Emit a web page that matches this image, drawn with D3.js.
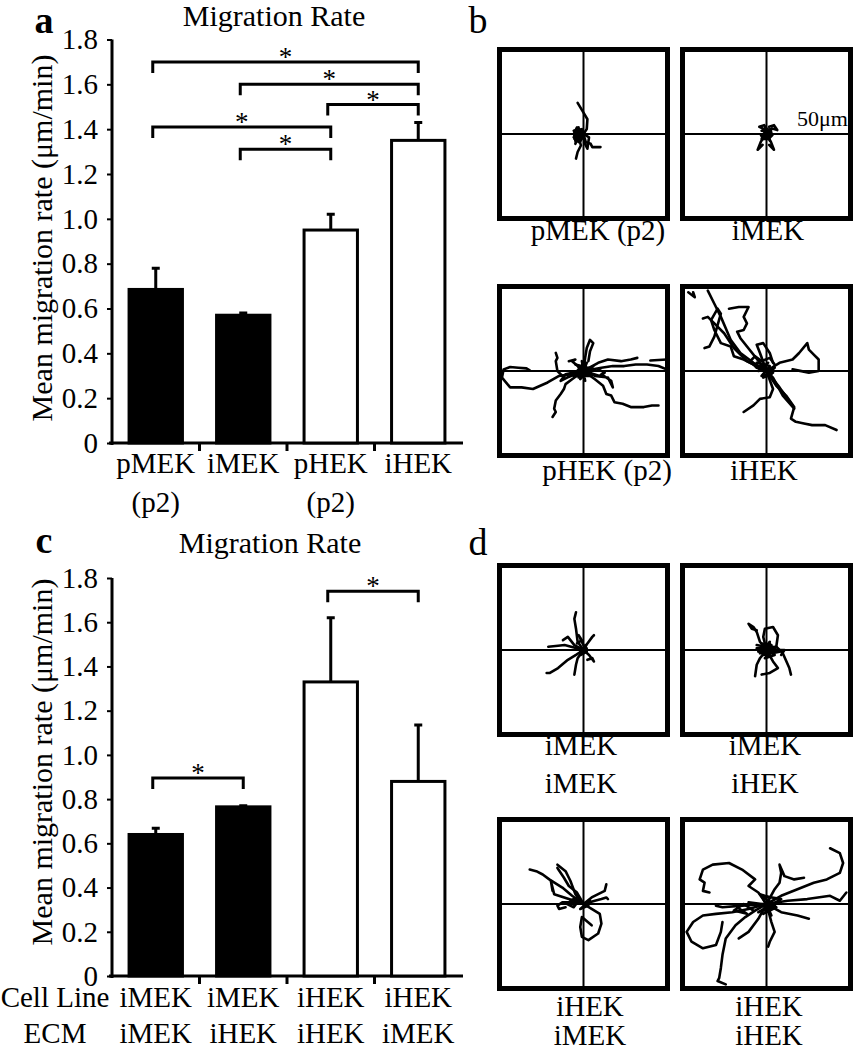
<!DOCTYPE html>
<html><head><meta charset="utf-8">
<script src="https://cdn.jsdelivr.net/npm/d3@7"></script>
<style>
body{margin:0;background:#fff}
svg{display:block}
svg text{font-family:"Liberation Serif","Times New Roman",Times,serif;fill:#000}
</style>
</head><body>
<script>
// ---------------- DATA ----------------
const yTicks = [0,0.2,0.4,0.6,0.8,1.0,1.2,1.4,1.6,1.8];
const yTickLabels = ["0","0.2","0.4","0.6","0.8","1.0","1.2","1.4","1.6","1.8"];

// Panel a
const catsA = ["pMEK","iMEK","pHEK","iHEK"];
const subA = ["(p2)","","(p2)",""];
const meansA = [0.685,0.57,0.95,1.35];
const errsA = [0.095,0.01,0.07,0.08];
const groupA = ["mouse","mouse","human","human"];
const sigA = [[0,3,1.70],[1,3,1.60],[2,3,1.51],[0,2,1.41],[1,2,1.31]];

// Panel c
const cellLineC = ["iMEK","iMEK","iHEK","iHEK"];
const ecmC = ["iMEK","iHEK","iHEK","iMEK"];
const meansC = [0.64,0.765,1.33,0.88];
const errsC = [0.028,0.005,0.29,0.255];
const groupC = ["mouse","mouse","human","human"];
const sigC = [[0,1,0.895],[2,3,1.74]];

// Panel b track labels
const labelsB = ["pMEK (p2)","iMEK","pHEK (p2)","iHEK"];
// Panel d track labels (cell line / ECM)
const cellLineD = ["iMEK","iMEK","iHEK","iHEK"];
const ecmD = ["iMEK","iHEK","iMEK","iHEK"];

// Cell trajectories (µm, origin-centred, y up)
const tracksB1 = [
 [[0,0],[2,3],[2.4,9],[0,13],[-3.6,19]],
 [[0,0],[-3.6,1],[-5.6,-1],[-4.6,-5],[-2.6,-3],[-1.6,-7],[-3.6,-11],[-4.6,-15]],
 [[0,0],[1.4,-5],[4.4,-6],[5.4,-8],[10.4,-8]],
 [[-5.6,2],[-2.6,3],[0.4,1],[-4.6,-2],[-1.6,-4],[-5.6,-3],[0,0]],
 [[0,0],[3.4,-2],[2.4,-9],[0.4,-5]],
 [[0,0],[-4,4],[-6,0],[-3,-1],[-5,-6]],
 [[-4,1],[-2,-2],[-5,-4],[-3,0],[-6,2],[-2,1],[-4,-1]],
 [[-1,3],[-5,1],[-3,4],[-6,-2],[0,-2],[-3,-5]]
];
const tracksB2 = [
 [[0,0],[-2.4,3.4],[-4.4,4.4],[-1.4,5.4],[0.6,2.4]],
 [[0,0],[3.6,3.4],[6.6,2.4],[4.6,5.4],[1.6,4.4]],
 [[0,0],[-3.4,-4.6],[-5.4,-9.6],[-2.4,-6.6]],
 [[0,0],[2.6,-4.6],[4.6,-9.6],[1.6,-6.6]],
 [[0,0],[-3.4,-0.6],[-2.4,-2.6],[-0.4,-1.6],[1.6,-2.6],[3.6,-0.6]],
 [[0,0],[-2,2],[1,1],[-1,-2],[2,-1],[0,3]],
 [[-2,0],[1,-3],[-3,-3],[0,1],[3,1],[-1,4],[2,-4]],
 [[-1,1],[2,2],[-2,-1],[1,-1],[3,3],[-3,2]]
];
const tracksB3 = [
 [[0,0],[-8,-2],[-15,-3],[-22,-7],[-31,-11],[-38,-10],[-45,-10],[-50,-4],[-49,1],[-45,2.4],[-40,2],[-35,1.6],[-33,0.4]],
 [[0,0],[7,-5],[12,-9],[14,-14],[17,-15],[19,-19],[24,-20],[29,-22],[37,-22],[42,-21],[46,-21]],
 [[0,0],[-7,-5],[-11,-8],[-12,-11],[-14,-14],[-17,-18],[-18,-23],[-17,-25],[-19,-28]],
 [[0,0],[-9,-2],[-13,-3],[-16,0],[-17,6],[-16,8],[-17,11]],
 [[0,0],[1,8],[2,14],[4,19],[6,17],[4,12],[3,6]],
 [[0,0],[9,5],[15,7],[23,6],[29,7],[33,8]],
 [[0,0],[11,2],[18,3],[25,3],[32,4],[39,4],[46,3],[51,1]],
 [[41,6.4],[51,7]],
 [[0,0],[7,-3],[15,-4],[18,-10],[17,-6],[11,-2]],
 [[-5,4],[3,2],[-3,-4],[5,-2],[-1,6],[1,-6],[0,0]],
 [[0,0],[-7,6],[-5,7],[-9,6]],
 [[-3,2],[4,-3],[-6,-3],[6,3],[-2,-5],[2,5],[-4,0],[5,0]],
 [[0,0],[-10,-4],[-14,-6],[-11,-2],[-6,-1]],
 [[0,0],[10,-3],[13,-1],[9,1]]
];
const tracksB4 = [
 [[0,0],[-8,5],[-16,11],[-22,19],[-25,26],[-28,33],[-32,41],[-36,49]],
 [[0,0],[-12,6],[-20,14],[-26,23],[-32,29],[-36,33],[-39,32]],
 [[0,0],[-14,7],[-20,9],[-22,15],[-28,17],[-32,25],[-34,31],[-30,38],[-28,35],[-32,21],[-35,15],[-38,14]],
 [[0,0],[-16,20],[-18,24],[-14,25],[-12,29],[-14,33],[-11,39],[-17,39],[-23,38]],
 [[0,0],[8,5],[16,7],[20,11],[25,17],[26,13],[29,10],[32,7],[32,0],[26,-1],[16,1]],
 [[0,0],[-4,11],[-6,16],[-2,17],[2,11],[4,5]],
 [[0,0],[6,-9],[12,-15],[17,-22],[15,-29],[18,-31],[23,-32],[28,-33],[36,-33],[43,-36]],
 [[0,0],[4,-11],[2,-16],[-4,-17],[-8,-21],[-14,-25]],
 [[0,0],[8,-10],[16,-21]],
 [[0,0],[4,-4],[10,-15],[17,-23]],
 [[-48,48],[-44,45],[-45,48]],
 [[-6,5],[2,3],[-3,-3],[4,-1],[-2,2],[0,0]],
 [[0,0],[-6,2],[-10,6],[-7,9],[-3,6],[2,8],[5,4]],
 [[-4,3],[3,-2],[-2,-4],[5,2],[-5,0],[1,5]]
];
const tracksD1 = [
 [[0,0],[-3.6,5],[-4.6,13],[-5.6,19],[-4.6,23]],
 [[0,0],[-7.6,2],[-11.6,3],[-15.6,2.6],[-21.6,2]],
 [[0,0],[-4.6,-3],[-9.6,-6],[-15.6,-11],[-20.6,-14],[-22.6,-14]],
 [[0,0],[2.4,4],[5.4,8],[6.4,9]],
 [[0,0],[-3.6,-5],[-4.6,-9],[-5.6,-15]],
 [[0,0],[3.4,-3],[6.4,-7],[5.4,-5],[2.4,-6]],
 [[0,0],[-5.6,3],[-9.6,8],[-12.6,6]],
 [[-3,1],[2,-1],[-1.6,-3],[1.4,3],[0,0]],
 [[-4,4],[-1,6],[-3,9],[0,3],[2,1],[-2,-1]]
];
const tracksD2 = [
 [[0,0],[-4,5],[-6,11],[-8,14],[-11,16],[-9,13],[-6,12]],
 [[0,0],[-2,8],[-1,13],[4,14],[7,9],[6,2],[10,-2],[14,-11],[15,-15]],
 [[0,0],[-4,-5],[-6,-9],[-7,-16]],
 [[0,0],[4,-7],[7,-11],[2,-14],[-3,-15]],
 [[-6,3],[4,1],[-2,-3],[8,-1],[-4,-2],[2,5],[0,0]],
 [[0,0],[8,0],[11,0],[9,-3]],
 [[-5,-1],[3,3],[-3,4],[5,-3],[-1,-5],[6,2],[-6,1]],
 [[-2,2],[4,-1],[0,-3],[-4,1],[2,4]]
];
const tracksD3 = [
 [[0,0],[-7,5],[-13,10],[-21,15],[-25,18],[-29,20],[-33,21]],
 [[0,0],[-5,6],[-8,14],[-11,20],[-16,24]],
 [[0,0],[-4,7],[-9,11],[-12,16],[-16,22]],
 [[0,0],[5,4],[9,6],[13,8],[14,12]],
 [[0,0],[5,-3],[10,-6],[11,-12],[9,-18],[3,-22],[-1,-20],[-2,-14],[-1,-8],[5,-13]],
 [[0,0],[-7,1],[-13,1],[-16,-1],[-15,-3],[-11,-2]],
 [[0,0],[-9,3],[-18,6],[-20,14],[-19,8]],
 [[0,0],[7,2],[11,3],[14,4],[15,3]],
 [[-5,2],[3,-1],[-2,-3],[4,2],[0,0]],
 [[-8,2],[-4,4],[-10,0],[-6,-2],[-3,2]]
];
const tracksD4 = [
 [[0,0],[-5,7],[-11,11],[-7,15],[-15,21],[-23,25],[-33,24],[-39,21],[-41,15],[-38,13],[-39,8],[-35,7]],
 [[0,0],[-11,-3],[-21,-5],[-31,-6],[-39,-7],[-45,-11],[-49,-17],[-46,-23],[-39,-27],[-31,-25],[-28,-17],[-27,-11]],
 [[0,0],[-7,-4],[-13,-8],[-19,-13],[-25,-21],[-27,-31],[-28,-39],[-29,-45],[-30,-47],[-25,-49]],
 [[0,0],[9,5],[19,9],[29,13],[37,15],[41,17],[45,19],[47,25],[45,31],[39,34]],
 [[0,0],[13,2],[25,3],[39,5],[45,2],[49,7]],
 [[0,0],[5,9],[8,13],[9,19],[8,24],[11,17],[17,15],[23,16]],
 [[0,0],[9,-5],[19,-7],[26,-9]],
 [[0,0],[3,-11],[5,-17],[2,-23],[1,-26]],
 [[0,0],[-5,-9],[-11,-17],[-17,-21]],
 [[0,0],[-15,-1],[-27,-2],[-31,-1]],
 [[-11,1],[5,-1],[-5,-5],[9,3],[-3,5],[3,-7],[0,0]],
 [[-18,-2],[-12,-6],[-20,-4],[-14,0],[-8,-4]],
 [[2,4],[-4,6],[6,-2],[-2,-6],[8,2]]
];

// ---------------- DRAW ----------------
const W = 856, H = 1050;
const SERIF = "'Liberation Serif','Times New Roman',Times,serif";
const svg = d3.select("body").append("svg").attr("width", W).attr("height", H)
  .style("font-family", SERIF);
const FONT = 29;
const fill = {mouse:"#000", human:"#fff"};

function txt(x, y, s, size, anchor, weight) {
  return svg.append("text").attr("x", x).attr("y", y).attr("font-size", size)
    .style("font-family", SERIF)
    .attr("text-anchor", anchor || "middle").attr("font-weight", weight || "normal").text(s);
}

function barPanel(means, errs, groups, sigs, yBottom, yTop) {
  const g = svg.append("g");
  const x = d3.scaleBand().domain(d3.range(means.length)).range([112, 462])
    .paddingInner(0.39).paddingOuter(0.195);
  const y = d3.scaleLinear().domain([0, 1.8]).range([yBottom, yTop]);
  const cx = i => x(i) + x.bandwidth() / 2;

  const ya = d3.axisLeft(y).tickValues(yTicks).tickFormat((d, i) => yTickLabels[i])
    .tickSize(5).tickSizeOuter(0).tickPadding(9);
  const gy = g.append("g").attr("transform", "translate(112,0)").call(ya)
    .attr("font-size", FONT).attr("font-family", null);
  gy.select(".domain").attr("stroke-width", 3).attr("d", `M0,${yTop}V${yBottom + 2}`);
  gy.selectAll(".tick line").attr("stroke-width", 2);
  gy.selectAll(".tick text").attr("fill", "#000").style("font-family", SERIF);

  // x axis baseline + boundary ticks
  g.append("line").attr("x1", 109).attr("x2", 463).attr("y1", yBottom).attr("y2", yBottom)
    .attr("stroke", "#000").attr("stroke-width", 3);
  const bounds = d3.range(1, means.length).map(i => x(i) - x.step() * x.paddingInner() / 2);
  g.selectAll(".bt").data(bounds).join("line")
    .attr("x1", d => d).attr("x2", d => d).attr("y1", yBottom).attr("y2", yBottom + 8)
    .attr("stroke", "#000").attr("stroke-width", 3);

  g.selectAll(".err").data(means).join("path")
    .attr("d", (d, i) => `M${cx(i)},${y(d)}V${y(d + errs[i])}M${cx(i) - 4},${y(d + errs[i])}H${cx(i) + 4}`)
    .attr("stroke", "#000").attr("stroke-width", 3).attr("fill", "none");

  g.selectAll(".bar").data(means).join("rect")
    .attr("x", (d, i) => x(i)).attr("width", x.bandwidth())
    .attr("y", d => y(d)).attr("height", d => yBottom - y(d))
    .attr("fill", (d, i) => fill[groups[i]]).attr("stroke", "#000").attr("stroke-width", 3);

  g.selectAll(".sig").data(sigs).join("path")
    .attr("d", d => {
      const x1 = cx(d[0]) - 3, x2 = cx(d[1]), yy = y(d[2]);
      return `M${x1},${yy + 11}V${yy}H${x2}V${yy + 11}`;
    })
    .attr("stroke", "#000").attr("stroke-width", 3).attr("fill", "none");
  g.selectAll(".star").data(sigs).join("text")
    .attr("x", d => (cx(d[0]) - 3 + cx(d[1])) / 2).attr("y", d => y(d[2]) + 4)
    .attr("text-anchor", "middle").attr("font-size", 27).style("font-family", SERIF).text("*");

  return {x, y, cx};
}

// Panel a
const pa = barPanel(meansA, errsA, groupA, sigA, 443, 39.5);
txt(44, 33, "a", 38, "middle", "bold");
txt(274, 26, "Migration Rate", 30);
svg.append("text").attr("transform", "translate(52,238) rotate(-90)").style("font-family", SERIF)
  .attr("text-anchor", "middle").attr("font-size", 30).text("Mean migration rate (\u03bcm/min)");
catsA.forEach((c, i) => {
  txt(pa.cx(i), 473, c, FONT);
  if (subA[i]) txt(pa.cx(i), 512, subA[i], FONT);
});

// Panel c
const pc = barPanel(meansC, errsC, groupC, sigC, 976, 578);
txt(44, 553, "c", 38, "middle", "bold");
txt(270, 553, "Migration Rate", 30);
svg.append("text").attr("transform", "translate(52,762) rotate(-90)").style("font-family", SERIF)
  .attr("text-anchor", "middle").attr("font-size", 30).text("Mean migration rate (\u03bcm/min)");
txt(55, 1007, "Cell Line", FONT);
txt(55, 1043, "ECM", FONT);
cellLineC.forEach((c, i) => txt(pc.cx(i), 1007, c, FONT));
ecmC.forEach((c, i) => txt(pc.cx(i), 1043, c, FONT));

// Trajectory panels
const line = d3.line();
function trackBox(bx, by, tracks) {
  const w = 173, h = 174;
  const sx = d3.scaleLinear().domain([-50, 50]).range([bx + 5, bx + w - 5]);
  const sy = d3.scaleLinear().domain([-50, 50]).range([by + h - 5, by + 5]);
  const g = svg.append("g");
  g.append("rect").attr("x", bx + 2.5).attr("y", by + 2.5).attr("width", w - 5).attr("height", h - 5)
    .attr("fill", "#fff").attr("stroke", "#000").attr("stroke-width", 5);
  g.append("line").attr("x1", sx(-50)).attr("x2", sx(50)).attr("y1", sy(0)).attr("y2", sy(0))
    .attr("stroke", "#000").attr("stroke-width", 2);
  g.append("line").attr("x1", sx(0)).attr("x2", sx(0)).attr("y1", sy(50)).attr("y2", sy(-50))
    .attr("stroke", "#000").attr("stroke-width", 2);
  line.x(d => sx(d[0])).y(d => sy(d[1]));
  g.selectAll(".trk").data(tracks).join("path").attr("d", line)
    .attr("fill", "none").attr("stroke", "#000").attr("stroke-width", 2.6)
    .attr("stroke-linejoin", "round").attr("stroke-linecap", "round");
  return {sx, sy};
}

const colX = [497, 680];
txt(478, 33, "b", 38);
trackBox(colX[0], 47, tracksB1);
trackBox(colX[1], 47, tracksB2);
txt(848, 126, "50\u03bcm", 22, "end");
trackBox(colX[0], 284, tracksB3);
trackBox(colX[1], 284, tracksB4);
txt(598, 240, labelsB[0], FONT);
txt(768, 240, labelsB[1], FONT);
txt(607, 480, labelsB[2], FONT);
txt(764, 480, labelsB[3], FONT);

txt(478, 555, "d", 38);
trackBox(colX[0], 563, tracksD1);
trackBox(colX[1], 563, tracksD2);
trackBox(colX[0], 817, tracksD3);
trackBox(colX[1], 817, tracksD4);
const dLabX = [581, 765, 590, 769];
const dLabY = [755, 755, 1016, 1016];
const dGap = [38, 38, 29, 29];
cellLineD.forEach((c, i) => {
  txt(dLabX[i], dLabY[i], c, FONT);
  txt(dLabX[i], dLabY[i] + dGap[i], ecmD[i], FONT);
});
</script>
</body></html>
